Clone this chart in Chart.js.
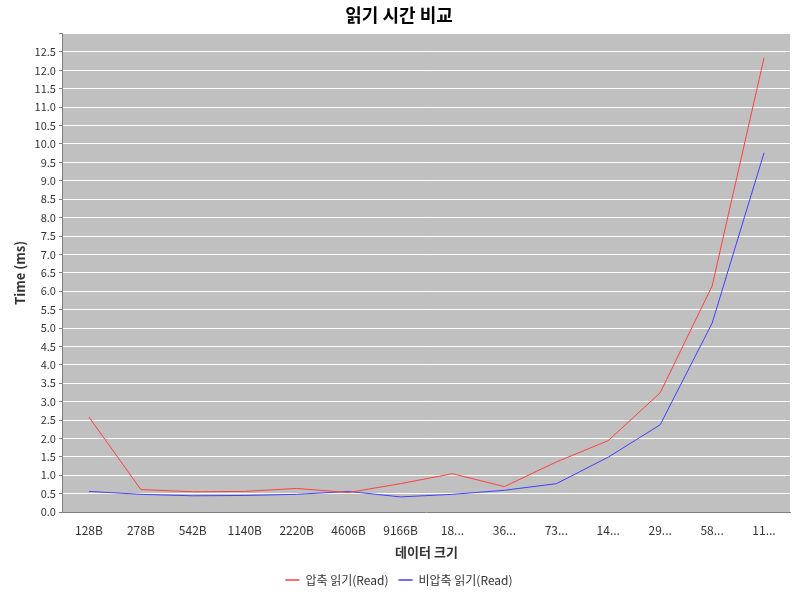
<!DOCTYPE html>
<html><head><meta charset="utf-8">
<script src="https://cdn.jsdelivr.net/npm/chart.js@4"></script>
<style>body{margin:0;background:#fff}#wrap{width:800px;height:600px}</style>
</head><body><div id="wrap"><canvas id="c"></canvas></div>
<script>
const categories = ['128B','278B','542B','1140B','2220B','4606B','9166B','18...','36...','73...','14...','29...','58...','11...'];
const compressedRead = [2.58,0.61,0.55,0.56,0.64,0.53,0.77,1.04,0.69,1.36,1.94,3.24,6.14,12.34];
const plainRead      = [0.56,0.48,0.44,0.45,0.48,0.56,0.41,0.48,0.59,0.77,1.49,2.37,5.13,9.76];

const font = "'Noto Sans CJK KR','DejaVu Sans',sans-serif";

const plotBg = {
  id: 'plotBg',
  beforeDraw(chart) {
    const a = chart.chartArea, ctx = chart.ctx;
    ctx.save();
    ctx.fillStyle = '#c0c0c0';
    ctx.fillRect(a.left, a.top, a.right - a.left, a.bottom - a.top);
    ctx.restore();
  }
};

new Chart(document.getElementById('c'), {
  type: 'line',
  data: {
    labels: categories,
    datasets: [
      { label: '압축 읽기(Read)', data: compressedRead, borderColor: '#ff4040', backgroundColor: '#ff4040', borderWidth: 1, pointRadius: 0, tension: 0 },
      { label: '비압축 읽기(Read)', data: plainRead, borderColor: '#4040ff', backgroundColor: '#4040ff', borderWidth: 1, pointRadius: 0, tension: 0 }
    ]
  },
  options: {
    responsive: true, maintainAspectRatio: false, animation: false,
    layout: { padding: { left: 8, right: 10, top: 0, bottom: 4 } },
    plugins: {
      title: { display: true, text: '읽기 시간 비교', color: '#000', font: { family: font, size: 18, weight: 'bold' }, padding: { top: 4, bottom: 8 } },
      legend: { position: 'bottom', labels: { boxWidth: 14, boxHeight: 0, color: '#333', font: { family: font, size: 12 } } },
      tooltip: { enabled: false }
    },
    scales: {
      x: {
        offset: true,
        grid: { display: false },
        border: { color: '#808080' },
        ticks: { color: '#333', font: { family: font, size: 12 }, maxRotation: 0, autoSkip: false },
        title: { display: true, text: '데이터 크기', color: '#333', font: { family: font, size: 13, weight: 'bold' } }
      },
      y: {
        min: 0, max: 13,
        grid: { color: '#ffffff', borderDash: [2, 2], drawTicks: true, tickColor: '#808080', tickLength: 4 },
        border: { color: '#808080' },
        ticks: { stepSize: 0.5, color: '#333', font: { family: font, size: 11 },
          callback: v => v >= 13 ? '' : v.toFixed(1) },
        title: { display: true, text: 'Time (ms)', color: '#333', font: { family: font, size: 13, weight: 'bold' } }
      }
    }
  },
  plugins: [plotBg]
});
</script></body></html>
